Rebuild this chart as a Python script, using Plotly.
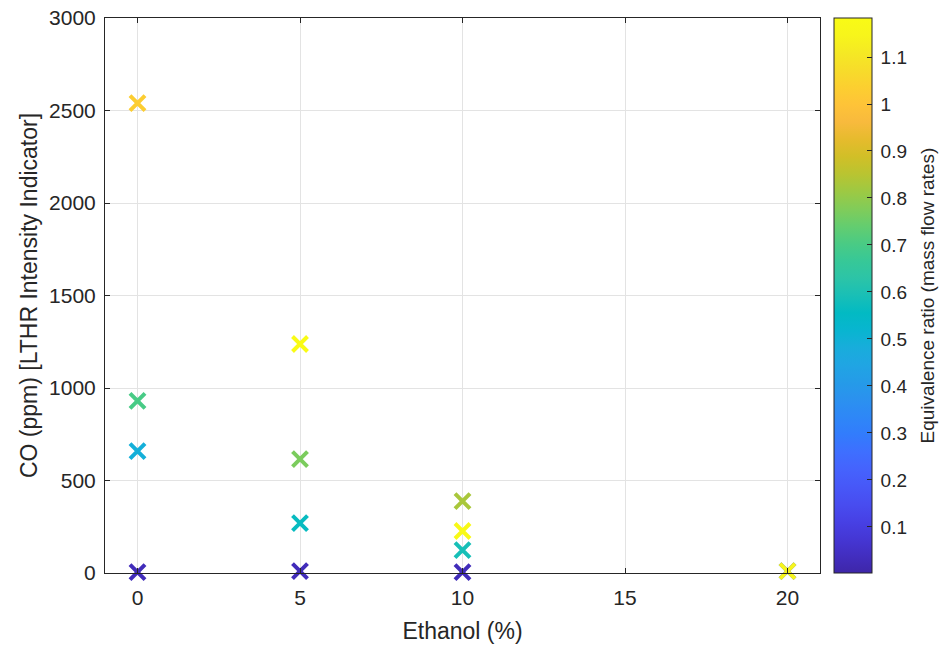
import plotly.graph_objects as go

# Measurements: ethanol blend, CO emission, equivalence ratio
ethanol_pct = [0, 0, 0, 0, 5, 5, 5, 5, 10, 10, 10, 10, 20, 20]
co_ppm = [2540, 930, 659, 5, 1238, 616, 270, 10, 389, 227, 124, 5, 10, 10]
equiv_ratio = [1.03, 0.70, 0.49, 0.03, 1.18, 0.77, 0.565, 0.03, 0.83, 1.17, 0.59, 0.03, 0.25, 1.145]

x_ticks = [0, 5, 10, 15, 20]
y_ticks = [0, 500, 1000, 1500, 2000, 2500, 3000]
cbar_ticks = [0.1, 0.2, 0.3, 0.4, 0.5, 0.6, 0.7, 0.8, 0.9, 1.0, 1.1]
cbar_labels = ["0.1", "0.2", "0.3", "0.4", "0.5", "0.6", "0.7", "0.8", "0.9", "1", "1.1"]

C_MIN, C_MAX = 0.002, 1.183

# parula colormap
parula_rgb = [
    (0.2422, 0.1504, 0.6603), (0.2578, 0.1818, 0.7511), (0.2706, 0.2147, 0.8364),
    (0.2783, 0.2559, 0.8991), (0.2813, 0.3006, 0.9414), (0.2795, 0.3447, 0.9717),
    (0.2699, 0.3892, 0.9906), (0.2440, 0.4358, 0.9988), (0.1963, 0.4847, 0.9892),
    (0.1786, 0.5289, 0.9682), (0.1687, 0.5703, 0.9359), (0.1460, 0.6091, 0.9079),
    (0.1248, 0.6459, 0.8883), (0.0952, 0.6798, 0.8598), (0.0297, 0.7082, 0.8163),
    (0.0067, 0.7312, 0.7660), (0.0964, 0.7500, 0.7120), (0.1717, 0.7670, 0.6554),
    (0.2161, 0.7843, 0.5923), (0.2906, 0.7973, 0.5188), (0.3909, 0.8029, 0.4354),
    (0.5044, 0.7993, 0.3480), (0.6174, 0.7876, 0.2612), (0.7242, 0.7698, 0.1910),
    (0.8203, 0.7498, 0.1535), (0.9035, 0.7330, 0.1774), (0.9728, 0.7298, 0.2394),
    (0.9970, 0.7659, 0.2199), (0.9892, 0.8136, 0.1885), (0.9676, 0.8639, 0.1643),
    (0.9597, 0.9135, 0.1423), (0.9691, 0.9606, 0.1064), (0.9769, 0.9839, 0.0805),
]
n = len(parula_rgb)
parula = [
    [i / (n - 1), "rgb(%d,%d,%d)" % tuple(round(c * 255) for c in rgb)]
    for i, rgb in enumerate(parula_rgb)
]

FONT = "Liberation Sans, Arial, Helvetica, sans-serif"
AXIS_COLOR = "#262626"
GRID_COLOR = "#e3e3e3"

fig = go.Figure(
    go.Scatter(
        x=ethanol_pct,
        y=co_ppm,
        mode="markers",
        cliponaxis=False,
        marker=dict(
            symbol="x-thin",
            size=15,
            line=dict(
                width=4,
                color=equiv_ratio,
                colorscale=parula,
                cmin=C_MIN,
                cmax=C_MAX,
            ),
            color=equiv_ratio,
            colorscale=parula,
            cmin=C_MIN,
            cmax=C_MAX,
            showscale=True,
            colorbar=dict(
                thickness=38,
                len=1,
                lenmode="fraction",
                y=0.5,
                yanchor="middle",
                x=1.02,
                xanchor="left",
                xpad=0,
                ypad=0,
                outlinewidth=1,
                outlinecolor=AXIS_COLOR,
                ticks="inside",
                ticklen=5,
                tickcolor=AXIS_COLOR,
                tickvals=cbar_ticks,
                ticktext=["\u2009" + t for t in cbar_labels],
                tickfont=dict(family=FONT, size=19, color=AXIS_COLOR),
            ),
        ),
        showlegend=False,
        hoverinfo="x+y",
    )
)

axis_common = dict(
    showline=True,
    linecolor=AXIS_COLOR,
    linewidth=1,
    mirror="ticks",
    ticks="inside",
    ticklen=5,
    tickcolor=AXIS_COLOR,
    showgrid=True,
    gridcolor=GRID_COLOR,
    gridwidth=1,
    zeroline=False,
    tickfont=dict(family=FONT, size=21, color=AXIS_COLOR),
)

fig.update_xaxes(
    range=[-1, 21],
    tickvals=x_ticks,
    ticklabelstandoff=6,
    title=dict(text="Ethanol (%)", font=dict(family=FONT, size=23, color=AXIS_COLOR), standoff=14),
    **axis_common,
)
fig.update_yaxes(
    range=[0, 3000],
    tickvals=y_ticks,
    ticklabelstandoff=4,
    title=dict(text="CO (ppm) [LTHR Intensity Indicator]", font=dict(family=FONT, size=23, color=AXIS_COLOR), standoff=5),
    **axis_common,
)

# Colour bar caption, rotated alongside the bar
fig.add_annotation(
    text="Equivalence ratio (mass flow rates)",
    xref="paper",
    yref="paper",
    x=1.151,
    y=0.5,
    xanchor="center",
    yanchor="middle",
    textangle=-90,
    showarrow=False,
    font=dict(family=FONT, size=19, color=AXIS_COLOR),
)

fig.update_layout(
    width=950,
    height=647,
    margin=dict(l=105, r=130, t=18, b=74, autoexpand=False),
    paper_bgcolor="white",
    plot_bgcolor="white",
    font=dict(family=FONT, color=AXIS_COLOR),
)

fig.write_html("out.html")
